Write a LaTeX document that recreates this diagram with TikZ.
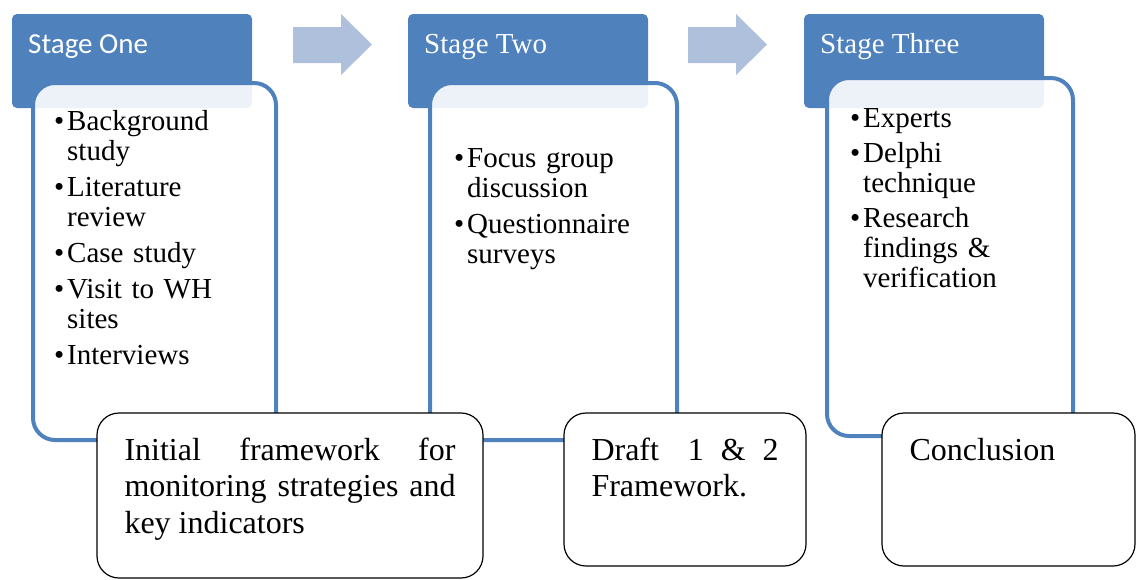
\documentclass[tikz,border=0pt]{standalone}
\usepackage{fontspec}
\setmainfont{Liberation Serif}
\newfontfamily\calibrifont{Carlito}
\usetikzlibrary{positioning}
\definecolor{stageBlue}{RGB}{79, 129, 189}
\definecolor{flowBlue}{RGB}{175, 192, 221}
\newcommand{\bitem}[1]{\leavevmode\llap{\makebox[13pt][l]{\textbullet}}#1}

\begin{document}
\begin{tikzpicture}[
      x=1pt, y=-1pt,
      header/.style={fill=stageBlue, rounded corners=5pt, anchor=north west, minimum width=240pt, minimum height=94pt, inner sep=0pt, outer sep=0pt},
      headtext/.style={anchor=base west, text=white, font=\fontsize{29pt}{30pt}\selectfont, inner sep=0pt},
      stagebox/.style={draw=stageBlue, fill=white, fill opacity=0.9, line width=4pt, rounded corners=22pt, anchor=north west, inner sep=0pt, outer sep=0pt},
      itemtext/.style={anchor=base west, align=left, text width=200pt, inner sep=0pt, font=\fontsize{29pt}{30pt}\selectfont},
      result/.style={draw=black, fill=white, line width=1.2pt, rounded corners=22pt, anchor=north west, align=justify, inner xsep=27.5pt, inner ysep=0pt, outer sep=0pt, text height=47pt, font=\fontsize{32pt}{36.5pt}\selectfont},
      flow/.style={fill=flowBlue}
  ]
      \useasboundingbox (0,0) rectangle (1137,579);

      % STAGE HEADERS
      \node[header] (headone) at (12,14) {};
      \node[header] (headtwo) at (408,14) {};
      \node[header] (headthree) at (804,14) {};
      \node[headtext] (titleone) at (28,53) {\calibrifont Stage One};
      \node[headtext] (titletwo) at (424,53) {Stage Two};
      \node[headtext] (titlethree) at (820,53) {Stage Three};

      % STAGE BOXES
      \node[stagebox, minimum width=243pt, minimum height=357pt] (boxone) at (33,83) {};
      \node[stagebox, minimum width=247pt, minimum height=357pt] (boxtwo) at (430,83) {};
      \node[stagebox, minimum width=246pt, minimum height=358pt] (boxthree) at (827,78) {};

      % ARROWS
      \foreach \ax in {293,688}
        \fill[flow] (\ax,27) -- (\ax+48,27) -- (\ax+48,14) -- (\ax+79,44.5) -- (\ax+48,75) -- (\ax+48,63) -- (\ax,63) -- cycle;

      % BULLET LISTS
      \node[itemtext] (listone) at (67,130) {\bitem{Background}\\ study\\[6pt] \bitem{Literature}\\ review\\[6pt] \bitem{Case study}\\[6pt] \bitem{Visit to WH}\\ sites\\[6pt] \bitem{Interviews}};
      \node[itemtext] (listtwo) at (467,167) {\bitem{Focus group}\\ discussion\\[6pt] \bitem{Questionnaire}\\ surveys};
      \node[itemtext] (listthree) at (863,127) {\bitem{Experts}\\[5pt] \bitem{Delphi}\\ technique\\[5pt] \bitem{Research}\\ findings \&\\ verification};

      % RESULTS
      \node[result, text width=331pt, text depth=118pt] (resone) at (97,413) {Initial framework for\linebreak monitoring strategies and\linebreak key indicators};
      \node[result, text width=187pt, text depth=106pt] (restwo) at (564,413) {Draft\hspace{12pt} 1 \& 2\linebreak Framework.};
      \node[result, text width=198pt, text depth=106pt] (resthree) at (882,413) {Conclusion};
  \end{tikzpicture}
\end{document}
